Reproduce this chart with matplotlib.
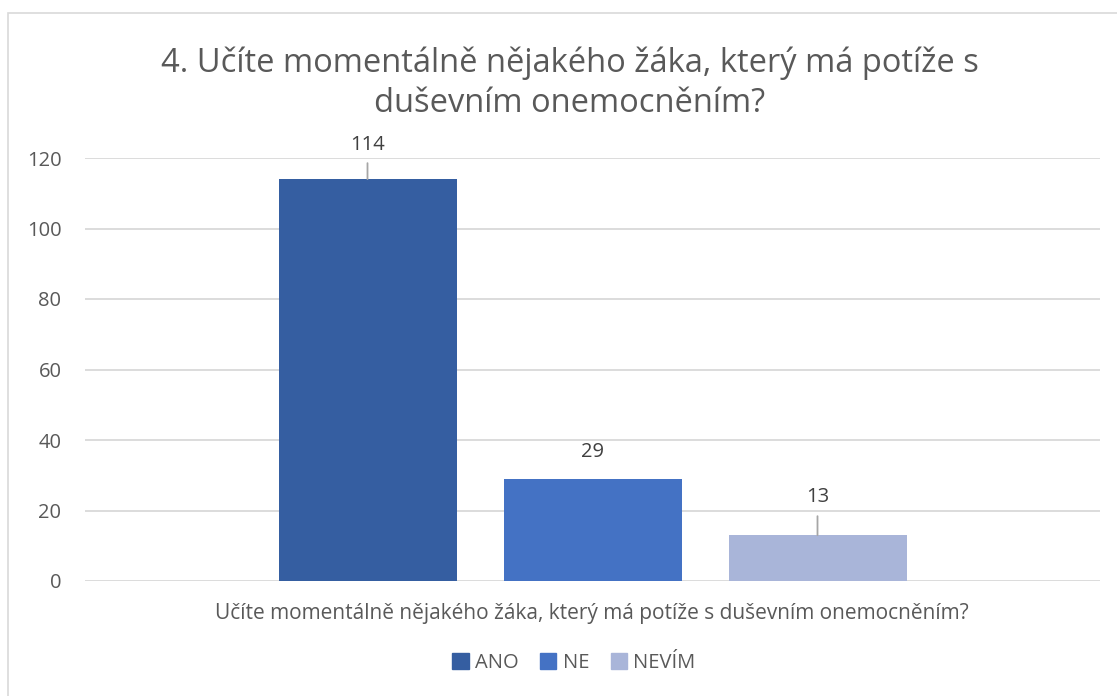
import matplotlib
matplotlib.use("Agg")
import matplotlib.pyplot as plt
from matplotlib.patches import Rectangle

plt.rcParams['font.family'] = ['Open Sans', 'DejaVu Sans']

title = "4. Učíte momentálně nějakého žáka, který má potíže s\nduševním onemocněním?"
category = "Učíte momentálně nějakého žáka, který má potíže s duševním onemocněním?"
series = ["ANO", "NE", "NEVÍM"]
values = [114, 29, 13]
colors = ["#355EA1", "#4472C4", "#A9B5D9"]
yticks = [0, 20, 40, 60, 80, 100, 120]

# label placement (pixels above bar top), leader length (pixels)
label_offsets = [34, 27, 38]
leader_lengths = [16, 0, 19]

W, H = 1117, 696
fig = plt.figure(figsize=(W / 100, H / 100), dpi=100)
fig.patch.set_facecolor("white")

# chart border
fig.add_artist(Rectangle((8 / W, -0.1), 1.2, 1 - 13 / H + 0.1, transform=fig.transFigure,
                         fill=False, edgecolor="#D9D9D9", linewidth=1.2))

ax = fig.add_axes([85 / W, 1 - 581 / H, (1100 - 85) / W, (581 - 158) / H])
ax.set_xlim(-0.5, 0.5)
ax.set_ylim(0, 120)

bar_w = 178 / 1015
step = 225 / 1015
text_color = "#595959"
for i, (s, v, c) in enumerate(zip(series, values, colors)):
    x = (i - 1) * step
    ax.bar(x, v, width=bar_w, color=c, label=s, zorder=3)
    ax.annotate(str(v), xy=(x, v), xytext=(0, label_offsets[i]), textcoords="offset pixels",
                ha="center", va="center", fontsize=14.5, color="#404040", zorder=4)
    if leader_lengths[i] > 0:
        ax.annotate("", xy=(x, v), xytext=(0, leader_lengths[i]), textcoords="offset pixels",
                    arrowprops=dict(arrowstyle="-", color="#A6A6A6", lw=1.3, shrinkA=0, shrinkB=0))

ax.set_yticks(yticks)
ax.set_yticklabels([str(t) for t in yticks], fontsize=14.5, color=text_color)
ax.set_xticks([])
ax.grid(axis="y", color="#D9D9D9", linewidth=1.3, zorder=0)
for sp in ax.spines.values():
    sp.set_visible(False)
ax.tick_params(axis="y", length=0, pad=17)

fig.text(592 / W, 1 - 614 / H, category, ha="center", va="center", fontsize=15, color=text_color)

fig.text(570 / W, 1 - 83 / H, title, ha="center", va="center", fontsize=23.5, color=text_color,
         linespacing=1.3)

handles = [Rectangle((0, 0), 1, 1, color=c) for c in colors]
fig.legend(handles, series, loc="center", bbox_to_anchor=(574 / W, 1 - 663 / H), ncol=3,
           frameon=False, fontsize=14.5, handlelength=0.8, handleheight=0.8, handletextpad=0.3,
           columnspacing=1.1, labelcolor=text_color)

fig.savefig("out.png", dpi=100, facecolor="white")
